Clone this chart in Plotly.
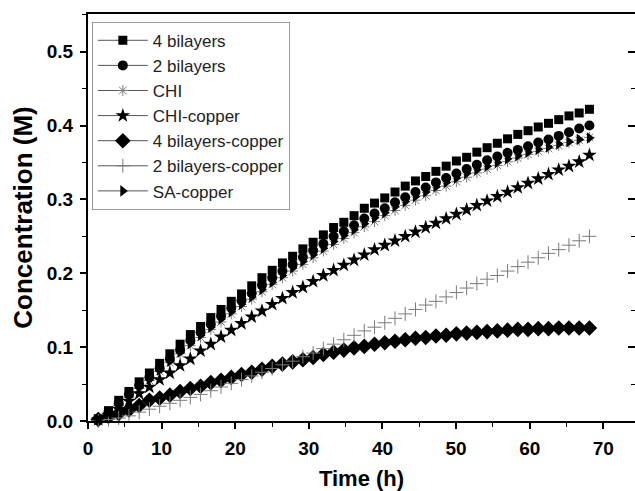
import plotly.graph_objects as go

time_h = [1.39, 2.78, 4.17, 5.56, 6.95, 8.34, 9.73, 11.12, 12.51, 13.9,
          15.29, 16.68, 18.07, 19.46, 20.85, 22.24, 23.63, 25.02, 26.41, 27.8,
          29.19, 30.58, 31.97, 33.36, 34.75, 36.14, 37.53, 38.92, 40.31, 41.7,
          43.09, 44.48, 45.87, 47.26, 48.65, 50.04, 51.43, 52.82, 54.21, 55.6,
          56.99, 58.38, 59.77, 61.16, 62.55, 63.94, 65.33, 66.72, 68.11]

bilayers4 = [0.003, 0.014, 0.028, 0.040, 0.053, 0.065, 0.078, 0.091, 0.104, 0.117,
             0.128, 0.140, 0.151, 0.162, 0.172, 0.183, 0.194, 0.204, 0.214, 0.223,
             0.233, 0.242, 0.252, 0.262, 0.269, 0.278, 0.288, 0.295, 0.302, 0.310,
             0.318, 0.325, 0.331, 0.338, 0.345, 0.352, 0.357, 0.364, 0.370, 0.376,
             0.382, 0.388, 0.393, 0.398, 0.403, 0.408, 0.413, 0.417, 0.422]

bilayers2 = [0.002, 0.012, 0.024, 0.036, 0.048, 0.059, 0.071, 0.084, 0.096, 0.109,
             0.120, 0.131, 0.142, 0.153, 0.163, 0.173, 0.184, 0.194, 0.203, 0.212,
             0.222, 0.231, 0.240, 0.250, 0.257, 0.265, 0.274, 0.281, 0.288, 0.296,
             0.303, 0.310, 0.316, 0.323, 0.329, 0.335, 0.341, 0.347, 0.353, 0.358,
             0.363, 0.367, 0.372, 0.377, 0.381, 0.386, 0.391, 0.396, 0.400]

chi = [0.002, 0.010, 0.021, 0.032, 0.044, 0.055, 0.067, 0.079, 0.091, 0.102,
       0.113, 0.124, 0.134, 0.145, 0.155, 0.165, 0.175, 0.185, 0.194, 0.203,
       0.212, 0.221, 0.230, 0.239, 0.247, 0.255, 0.263, 0.270, 0.278, 0.285,
       0.292, 0.299, 0.305, 0.312, 0.318, 0.324, 0.330, 0.336, 0.341, 0.346,
       0.351, 0.356, 0.361, 0.365, 0.369, 0.373, 0.377, 0.380, 0.384]

chi_copper = [0.002, 0.008, 0.016, 0.027, 0.037, 0.046, 0.056, 0.065, 0.075, 0.084,
              0.095, 0.104, 0.114, 0.123, 0.132, 0.141, 0.149, 0.158, 0.166, 0.174,
              0.181, 0.189, 0.197, 0.204, 0.211, 0.218, 0.225, 0.232, 0.238, 0.244,
              0.250, 0.256, 0.262, 0.268, 0.274, 0.280, 0.286, 0.292, 0.298, 0.304,
              0.310, 0.316, 0.322, 0.328, 0.334, 0.340, 0.345, 0.351, 0.360]

bilayers4_copper = [0.002, 0.006, 0.010, 0.015, 0.021, 0.028, 0.031, 0.035, 0.040, 0.044,
                    0.047, 0.052, 0.055, 0.059, 0.063, 0.066, 0.070, 0.074, 0.077, 0.080,
                    0.083, 0.086, 0.090, 0.093, 0.096, 0.099, 0.101, 0.104, 0.106, 0.108,
                    0.110, 0.112, 0.113, 0.115, 0.116, 0.118, 0.119, 0.120, 0.121, 0.122,
                    0.123, 0.124, 0.124, 0.125, 0.125, 0.126, 0.126, 0.126, 0.126]

bilayers2_copper = [0.000, 0.002, 0.004, 0.007, 0.012, 0.016, 0.020, 0.024, 0.028, 0.032,
                    0.036, 0.041, 0.046, 0.051, 0.056, 0.061, 0.066, 0.071, 0.076, 0.081,
                    0.087, 0.092, 0.098, 0.104, 0.110, 0.116, 0.122, 0.127, 0.133, 0.139,
                    0.145, 0.151, 0.157, 0.162, 0.168, 0.174, 0.180, 0.186, 0.192, 0.197,
                    0.203, 0.209, 0.215, 0.221, 0.227, 0.232, 0.238, 0.244, 0.250]

sa_copper = [0.002, 0.011, 0.022, 0.034, 0.046, 0.057, 0.069, 0.081, 0.093, 0.105,
             0.116, 0.127, 0.138, 0.148, 0.158, 0.168, 0.178, 0.188, 0.197, 0.207,
             0.216, 0.225, 0.234, 0.243, 0.251, 0.259, 0.267, 0.275, 0.282, 0.290,
             0.297, 0.304, 0.310, 0.317, 0.323, 0.329, 0.335, 0.340, 0.345, 0.350,
             0.355, 0.359, 0.364, 0.368, 0.371, 0.375, 0.378, 0.381, 0.383]

x_ticks = [0, 10, 20, 30, 40, 50, 60, 70]
y_ticks = [0.0, 0.1, 0.2, 0.3, 0.4, 0.5]
y_tick_text = ["0.0", "0.1", "0.2", "0.3", "0.4", "0.5"]

series = [
    ("4 bilayers", bilayers4, dict(symbol="square", size=9, color="black")),
    ("2 bilayers", bilayers2, dict(symbol="circle", size=10, color="black")),
    ("CHI", chi, dict(symbol="asterisk-open", size=9, color="#7a7a7a",
                       line=dict(color="#7a7a7a", width=1))),
    ("CHI-copper", chi_copper, dict(symbol="star", size=11, color="black")),
    ("4 bilayers-copper", bilayers4_copper, dict(symbol="diamond", size=12, color="black")),
    ("2 bilayers-copper", bilayers2_copper, dict(symbol="cross-thin-open", size=10, color="#7a7a7a",
                                                 line=dict(color="#7a7a7a", width=1))),
    ("SA-copper", sa_copper, dict(symbol="triangle-right", size=10, color="black")),
]

fig = go.Figure()

draw_order = [6, 2, 1, 0, 3, 4, 5]
for i in draw_order:
    name, vals, mk = series[i]
    # SA-copper is placed on the identical right-hand axis so that axis gets drawn
    fig.add_trace(go.Scatter(x=time_h, y=vals, mode="markers", marker=mk,
                             showlegend=False, name=name, cliponaxis=False,
                             yaxis="y2" if i == 6 else "y"))

for name, vals, mk in series:
    fig.add_trace(go.Scatter(x=[None], y=[None], mode="lines+markers", name=name,
                             marker=mk, line=dict(color="#555555", width=1)))

font_fam = "Liberation Sans, Arial, sans-serif"

fig.update_layout(
    width=635, height=491,
    margin=dict(l=88, r=0, t=14, b=70),
    paper_bgcolor="white", plot_bgcolor="white",
    font=dict(family=font_fam, color="black"),
    legend=dict(x=0.007, y=0.981, xanchor="left", yanchor="top",
                bordercolor="#9a9a9a", borderwidth=1, bgcolor="rgba(255,255,255,0)",
                font=dict(family=font_fam, size=17, color="#222222"),
                tracegroupgap=0, itemwidth=50),
    xaxis=dict(range=[0, 74.3], tickvals=x_ticks, ticks="outside", ticklen=6,
               tickwidth=1.5, tickcolor="black", showline=True, linecolor="black",
               linewidth=2, mirror=True, showgrid=False, zeroline=False, automargin=False,
               ticklabelstandoff=3,
               tickfont=dict(family=font_fam, size=19, weight="bold"),
               minor=dict(dtick=5, ticks="outside", ticklen=4, tickwidth=1.2,
                          tickcolor="black", showgrid=False),
               title=dict(text="Time (h)", font=dict(family=font_fam, size=22, weight="bold"),
                          standoff=15)),
    yaxis=dict(range=[0, 0.551], tickvals=y_ticks, ticktext=y_tick_text, ticks="outside",
               ticklen=6, tickwidth=1.5, tickcolor="black", showline=True,
               linecolor="black", linewidth=2, showgrid=False, zeroline=False, automargin=False,
               ticklabelstandoff=3,
               tickfont=dict(family=font_fam, size=19, weight="bold"),
               minor=dict(dtick=0.05, ticks="outside", ticklen=4, tickwidth=1.2,
                          tickcolor="black", showgrid=False),
               title=dict(text="Concentration (M)",
                          font=dict(family=font_fam, size=26, weight="bold"), standoff=7)),
    yaxis2=dict(range=[0, 0.551], overlaying="y", side="right", anchor="x",
                tickvals=y_ticks, ticks="inside", ticklen=7, tickwidth=1.5, tickcolor="black",
                showticklabels=False, showline=False, showgrid=False, zeroline=False,
                automargin=False,
                minor=dict(dtick=0.05, ticks="inside", ticklen=4, tickwidth=1.2,
                           tickcolor="black", showgrid=False)),
)

fig.write_html("out.html", config={"displayModeBar": False},
               post_script="document.body.style.margin='0';"
                           "document.documentElement.style.overflow='hidden';")
